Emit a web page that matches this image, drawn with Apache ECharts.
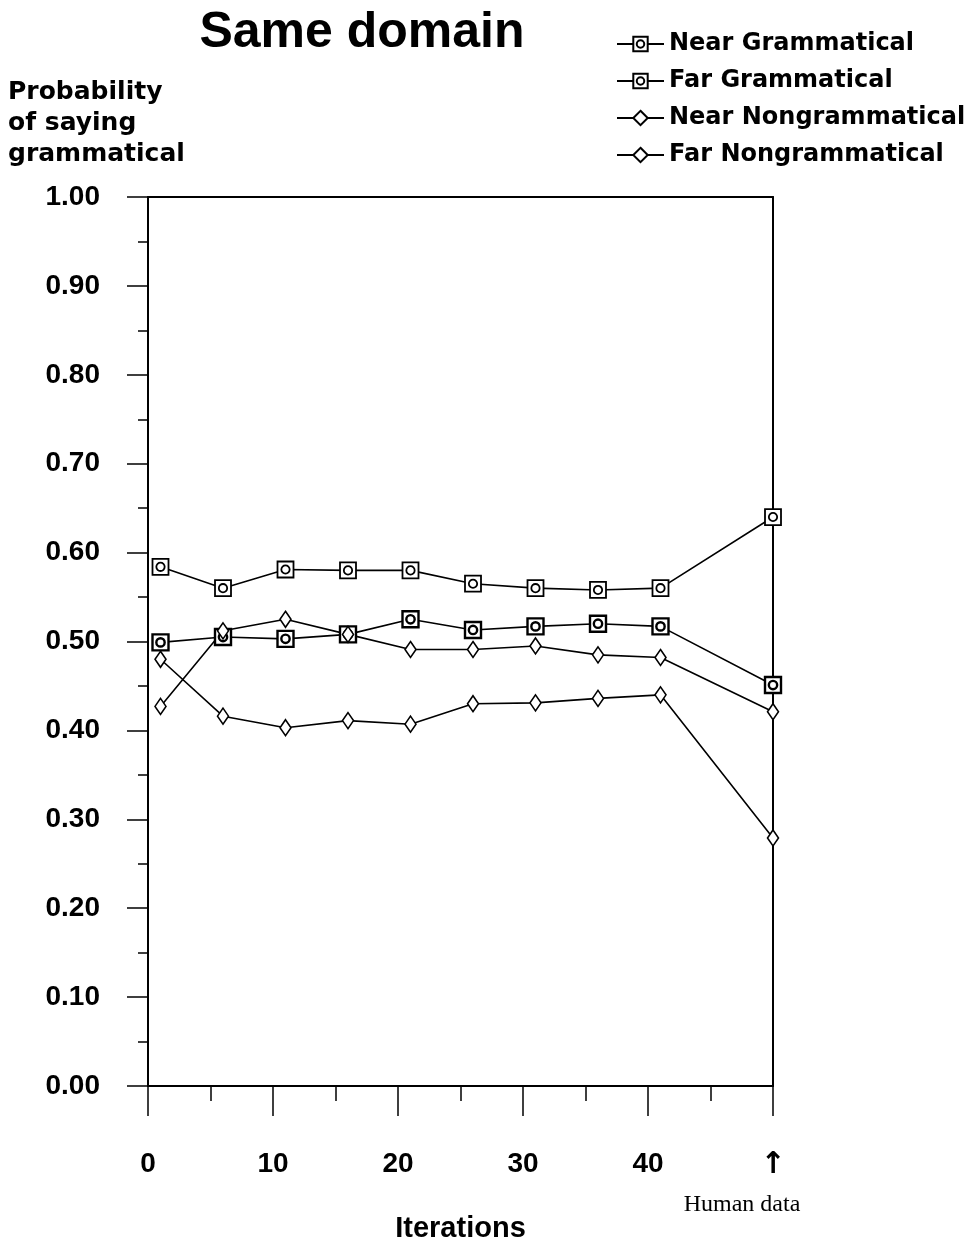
<!DOCTYPE html>
<html>
<head>
<meta charset="utf-8">
<title>Same domain</title>
<script src="https://cdn.jsdelivr.net/npm/echarts@6/dist/echarts.min.js"></script>
<style>
  html, body { margin: 0; padding: 0; background: #fff; }
  #chart { width: 969px; height: 1245px; }
</style>
</head>
<body>
<div id="chart"></div>
<script>
  // iterations (last point is the human data, drawn at x = 50)
  var iterations = [1, 6, 11, 16, 21, 26, 31, 36, 41, 50];
  var nearGrammatical = [0.584, 0.560, 0.581, 0.580, 0.580, 0.565, 0.560, 0.558, 0.560, 0.640];
  var farGrammatical = [0.499, 0.505, 0.503, 0.508, 0.525, 0.513, 0.517, 0.520, 0.517, 0.451];
  var nearNongrammatical = [0.427, 0.512, 0.525, 0.508, 0.491, 0.491, 0.495, 0.485, 0.482, 0.421];
  var farNongrammatical = [0.480, 0.416, 0.403, 0.411, 0.407, 0.430, 0.431, 0.436, 0.440, 0.279];
  var seriesNames = ['Near Grammatical', 'Far Grammatical', 'Near Nongrammatical', 'Far Nongrammatical'];
  var humanX = 50;

  // square with a small circle inside, both filled (same winding)
  var boxCircle = 'path://M0,0H20V20H0Z M10,4.8A5.2,5.2 0 1,1 10,15.2A5.2,5.2 0 1,1 10,4.8Z';
  var sans = "'Liberation Sans', Arial, sans-serif";
  var wide = "'DejaVu Sans', sans-serif";

  function pairs(values) {
    var out = [];
    for (var i = 0; i < values.length; i++) {
      out.push([iterations[i], values[i]]);
    }
    return out;
  }

  function makeSeries(name, values, symbol, size, border) {
    return {
      name: name,
      type: 'line',
      data: pairs(values),
      symbol: symbol,
      symbolSize: size,
      showAllSymbol: true,
      lineStyle: { color: '#000', width: 1.6 },
      itemStyle: { color: '#fff', borderColor: '#000', borderWidth: border },
      emphasis: { disabled: true },
      animation: false
    };
  }

  var chart = echarts.init(document.getElementById('chart'));

  var option = {
    backgroundColor: '#fff',
    animation: false,
    grid: { left: 148, right: 196, top: 197, bottom: 159, outerBoundsMode: 'none', containLabel: false },
    legend: {
      orient: 'vertical',
      left: 611,
      top: 27,
      itemWidth: 47,
      itemHeight: 18,
      itemGap: 13,
      data: seriesNames,
      textStyle: { fontFamily: wide, fontWeight: 'bold', fontSize: 24, color: '#000' },
      selectedMode: false
    },
    xAxis: [{
      type: 'value',
      min: 0,
      max: 50,
      interval: 10,
      position: 'bottom',
      name: 'Iterations',
      nameLocation: 'middle',
      nameGap: 128,
      nameTextStyle: { fontFamily: sans, fontWeight: 'bold', fontSize: 29, color: '#000' },
      axisLine: { onZero: false, lineStyle: { color: '#000', width: 2 } },
      axisTick: { length: 30, lineStyle: { color: '#000', width: 1.5 } },
      minorTick: { show: true, splitNumber: 2, length: 15, lineStyle: { color: '#000', width: 1.5 } },
      splitLine: { show: false },
      axisLabel: {
        margin: 64,
        fontFamily: sans, fontWeight: 'bold', fontSize: 28, color: '#000',
        formatter: function (v) { return v === humanX ? '{arr|↑}' : String(v); },
        rich: {
          arr: { fontFamily: wide, fontWeight: 'bold', fontSize: 30, color: '#000', padding: [0, 0, 4, 0] }
        }
      }
    }, {
      type: 'value',
      min: 0,
      max: 50,
      position: 'top',
      axisLine: { onZero: false, lineStyle: { color: '#000', width: 2 } },
      axisTick: { show: false },
      axisLabel: { show: false },
      splitLine: { show: false }
    }],
    yAxis: [{
      type: 'value',
      min: 0,
      max: 1,
      interval: 0.1,
      position: 'left',
      axisLine: { show: true, onZero: false, lineStyle: { color: '#000', width: 2 } },
      axisTick: { show: true, length: 21, lineStyle: { color: '#000', width: 1.5 } },
      minorTick: { show: true, splitNumber: 2, length: 10, lineStyle: { color: '#000', width: 1.5 } },
      splitLine: { show: false },
      axisLabel: {
        margin: 48,
        fontFamily: sans, fontWeight: 'bold', fontSize: 28, color: '#000',
        formatter: function (v) { return v.toFixed(2); }
      }
    }, {
      type: 'value',
      min: 0,
      max: 1,
      position: 'right',
      axisLine: { show: true, onZero: false, lineStyle: { color: '#000', width: 2 } },
      axisTick: { show: false },
      axisLabel: { show: false },
      splitLine: { show: false }
    }],
    graphic: [{
      type: 'text',
      x: 362,
      y: 33,
      style: {
        text: 'Same domain',
        fill: '#000',
        font: 'bold 50px ' + sans,
        textAlign: 'center',
        textVerticalAlign: 'middle'
      }
    }, {
      type: 'text',
      x: 8,
      y: 77,
      style: {
        text: 'Probability\nof saying\ngrammatical',
        fill: '#000',
        font: 'bold 25px ' + wide,
        lineHeight: 31,
        textAlign: 'left'
      }
    }, {
      type: 'text',
      x: 742,
      y: 1205,
      style: {
        text: 'Human data',
        fill: '#000',
        font: '24px "Liberation Serif", "Times New Roman", serif',
        textAlign: 'center',
        textVerticalAlign: 'middle'
      }
    }],
    series: [
      makeSeries(seriesNames[0], nearGrammatical, boxCircle, 16, 1.8),
      makeSeries(seriesNames[1], farGrammatical, boxCircle, 16, 2.4),
      makeSeries(seriesNames[2], nearNongrammatical, 'diamond', [11, 16], 1.6),
      makeSeries(seriesNames[3], farNongrammatical, 'diamond', [11, 16], 1.6)
    ]
  };

  chart.setOption(option);
</script>
</body>
</html>
